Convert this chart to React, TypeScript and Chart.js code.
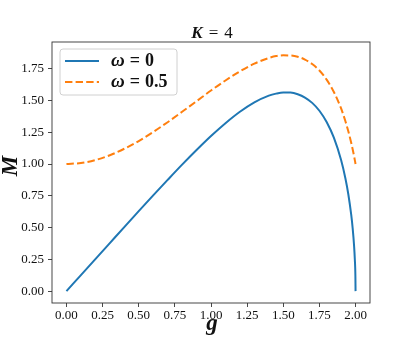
import React, { useEffect, useRef } from "react";
import { Chart, registerables } from "chart.js";

Chart.register(...registerables);

// g values (x axis)
const gValues = [
  0, 0.1, 0.2, 0.3, 0.4, 0.5, 0.6, 0.7, 0.8, 0.9, 1.0, 1.1, 1.2, 1.3, 1.4,
  1.45, 1.5, 1.55, 1.6, 1.65, 1.7, 1.75, 1.8, 1.85, 1.9, 1.93, 1.95, 1.97,
  1.98, 1.99, 1.995, 1.999, 2.0,
];
// M for omega = 0
const mOmega0 = [
  0, 0.126, 0.252, 0.378, 0.504, 0.629, 0.753, 0.875, 0.995, 1.11, 1.22,
  1.321, 1.411, 1.485, 1.538, 1.554, 1.563, 1.562, 1.549, 1.523, 1.481, 1.419,
  1.33, 1.207, 1.031, 0.886, 0.762, 0.601, 0.495, 0.354, 0.251, 0.113, 0,
];
// M for omega = 0.5
const mOmega05 = [
  1.0, 1.008, 1.031, 1.069, 1.12, 1.181, 1.252, 1.329, 1.411, 1.494, 1.578,
  1.657, 1.729, 1.79, 1.834, 1.849, 1.855, 1.854, 1.844, 1.822, 1.787, 1.736,
  1.664, 1.567, 1.437, 1.336, 1.257, 1.167, 1.116, 1.061, 1.031, 1.006, 1.0,
];
const xTicks = [0, 0.25, 0.5, 0.75, 1.0, 1.25, 1.5, 1.75, 2.0];
const yTicks = [0, 0.25, 0.5, 0.75, 1.0, 1.25, 1.5, 1.75];
const seriesSymbol = "\u03c9";
const seriesValues = ["0", "0.5"];
const titleVar = "K";
const titleValue = "4";
const xLabel = "g";
const yLabel = "M";

const BLUE = "#1f77b4";
const ORANGE = "#ff7f0e";
const SERIF = '"Liberation Serif", "DejaVu Serif", serif';

type Run = { t: string; f: string; gap?: number };

function drawRuns(ctx: CanvasRenderingContext2D, runs: Run[], x: number, y: number, align: "left" | "center") {
  let total = 0;
  const widths = runs.map((r) => {
    ctx.font = r.f;
    const w = ctx.measureText(r.t).width;
    total += w + (r.gap || 0);
    return w;
  });
  let cx = align === "center" ? x - total / 2 : x;
  ctx.textAlign = "left";
  runs.forEach((r, i) => {
    ctx.font = r.f;
    ctx.fillText(r.t, cx, y);
    cx += widths[i] + (r.gap || 0);
  });
}

export default function App() {
  const ref = useRef<HTMLCanvasElement | null>(null);

  useEffect(() => {
    const canvas = ref.current;
    if (!canvas) return;

    const decor = {
      id: "decor",
      afterDatasetsDraw(chart: any) {
        const { ctx, chartArea } = chart;
        const { left, right, top, bottom } = chartArea;
        ctx.save();
        // frame
        ctx.strokeStyle = "#333";
        ctx.lineWidth = 0.9;
        ctx.strokeRect(left, top, right - left, bottom - top);

        // title
        const cx = (left + right) / 2;
        ctx.fillStyle = "#111";
        ctx.textBaseline = "alphabetic";
        drawRuns(
          ctx,
          [
            { t: titleVar, f: `italic bold 17px ${SERIF}`, gap: 6 },
            { t: "=", f: `17px ${SERIF}`, gap: 6 },
            { t: titleValue, f: `17px ${SERIF}` },
          ],
          cx + 1,
          38,
          "center"
        );

        // axis labels
        ctx.font = `italic bold 23px ${SERIF}`;
        ctx.textAlign = "center";
        ctx.textBaseline = "alphabetic";
        ctx.fillText(xLabel, cx + 1, 330);
        ctx.save();
        ctx.translate(17, 166);
        ctx.rotate(-Math.PI / 2);
        ctx.fillText(yLabel, 0, 0);
        ctx.restore();

        // legend
        const bx = 60, by = 49, bw = 117, bh = 46;
        ctx.beginPath();
        ctx.roundRect(bx, by, bw, bh, 3);
        ctx.fillStyle = "rgba(255,255,255,0.85)";
        ctx.fill();
        ctx.strokeStyle = "#d0d0d0";
        ctx.lineWidth = 1;
        ctx.stroke();
        const rows = [61, 82];
        const colors = [BLUE, ORANGE];
        rows.forEach((ry, i) => {
          ctx.beginPath();
          ctx.strokeStyle = colors[i];
          ctx.lineWidth = 2;
          ctx.setLineDash(i === 1 ? [7.4, 3.2] : []);
          ctx.moveTo(65, ry);
          ctx.lineTo(99, ry);
          ctx.stroke();
          ctx.setLineDash([]);
          ctx.fillStyle = "#111";
          ctx.textBaseline = "alphabetic";
          drawRuns(
            ctx,
            [
              { t: seriesSymbol, f: `italic bold 19px ${SERIF}`, gap: 5 },
              { t: "=", f: `bold 18px ${SERIF}`, gap: 5 },
              { t: seriesValues[i], f: `bold 18px ${SERIF}` },
            ],
            111,
            ry + 5,
            "left"
          );
        });
        ctx.restore();
      },
    };

    const tickFont = { family: SERIF, size: 13 };

    const chart = new Chart(canvas, {
      type: "line",
      data: {
        datasets: [
          {
            label: "\u03c9 = 0",
            data: gValues.map((g, i) => ({ x: g, y: mOmega0[i] })),
            borderColor: BLUE,
            borderWidth: 2,
            pointRadius: 0,
            cubicInterpolationMode: "monotone",
            fill: false,
          },
          {
            label: "\u03c9 = 0.5",
            data: gValues.map((g, i) => ({ x: g, y: mOmega05[i] })),
            borderColor: ORANGE,
            borderWidth: 2,
            borderDash: [7.4, 3.2],
            pointRadius: 0,
            cubicInterpolationMode: "monotone",
            fill: false,
          },
        ],
      },
      options: {
        responsive: false,
        animation: false,
        layout: { padding: { left: 0, top: 42, right: 45, bottom: 0 } },
        plugins: { legend: { display: false }, tooltip: { enabled: false }, title: { display: false } },
        scales: {
          x: {
            type: "linear",
            min: -0.1,
            max: 2.1,
            afterBuildTicks: (s: any) => {
              s.ticks = xTicks.map((v) => ({ value: v }));
            },
            afterFit: (s: any) => {
              s.height = 43;
            },
            border: { display: false },
            grid: { drawOnChartArea: false, drawTicks: true, tickLength: 4, color: "#333", lineWidth: 0.9 },
            ticks: {
              autoSkip: false,
              maxRotation: 0,
              padding: 1,
              color: "#111",
              font: tickFont,
              callback: (v: any) => Number(v).toFixed(2),
            },
          },
          y: {
            type: "linear",
            min: -0.0935,
            max: 1.96,
            afterBuildTicks: (s: any) => {
              s.ticks = yTicks.map((v) => ({ value: v }));
            },
            afterFit: (s: any) => {
              s.width = 52;
            },
            border: { display: false },
            grid: { drawOnChartArea: false, drawTicks: true, tickLength: 4, color: "#333", lineWidth: 0.9 },
            ticks: {
              autoSkip: false,
              padding: 4,
              color: "#111",
              font: tickFont,
              callback: (v: any) => Number(v).toFixed(2),
            },
          },
        },
      },
      plugins: [decor],
    });
    return () => chart.destroy();
  }, []);

  return (
    <div style={{ position: "fixed", left: 0, top: 0, width: 415, height: 346, background: "#fff" }}>
      <canvas ref={ref} width={415} height={346} style={{ width: 415, height: 346 }} />
    </div>
  );
}
